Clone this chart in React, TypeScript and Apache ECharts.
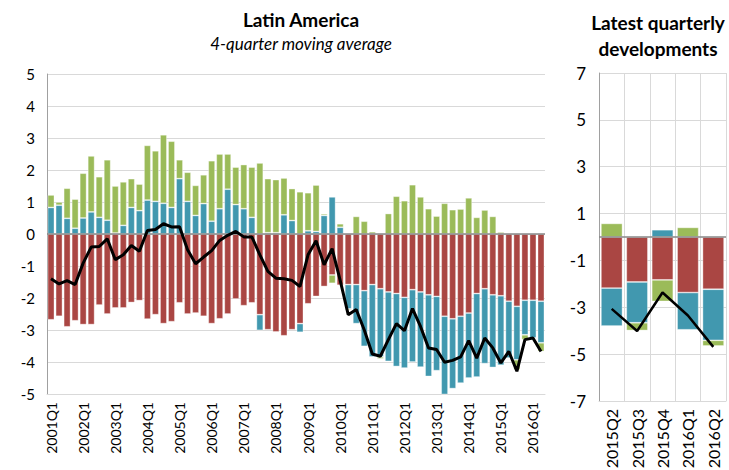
import React, { useEffect, useRef } from "react";
import * as echarts from "echarts";

const quarters = [
  "2001Q1","2001Q2","2001Q3","2001Q4","2002Q1","2002Q2","2002Q3","2002Q4",
  "2003Q1","2003Q2","2003Q3","2003Q4","2004Q1","2004Q2","2004Q3","2004Q4",
  "2005Q1","2005Q2","2005Q3","2005Q4","2006Q1","2006Q2","2006Q3","2006Q4",
  "2007Q1","2007Q2","2007Q3","2007Q4","2008Q1","2008Q2","2008Q3","2008Q4",
  "2009Q1","2009Q2","2009Q3","2009Q4","2010Q1","2010Q2","2010Q3","2010Q4",
  "2011Q1","2011Q2","2011Q3","2011Q4","2012Q1","2012Q2","2012Q3","2012Q4",
  "2013Q1","2013Q2","2013Q3","2013Q4","2014Q1","2014Q2","2014Q3","2014Q4",
  "2015Q1","2015Q2","2015Q3","2015Q4","2016Q1","2016Q2"
];

const redHist = [
  -2.68,-2.57,-2.90,-2.71,-2.83,-2.83,-2.22,-2.50,-2.31,-2.31,-2.14,-2.08,
  -2.66,-2.52,-2.80,-2.74,-2.15,-2.50,-2.47,-2.57,-2.80,-2.65,-2.50,-2.03,
  -2.24,-2.15,-2.52,-2.99,-3.06,-3.18,-2.99,-2.80,-2.18,-1.95,-1.64,-1.28,
  -1.60,-1.58,-1.58,-1.77,-1.58,-1.71,-1.81,-1.86,-1.98,-1.74,-1.81,-1.90,
  -1.95,-2.57,-2.65,-2.57,-2.47,-1.86,-1.71,-1.90,-1.93,-2.10,-2.26,-2.07,
  -2.07,-2.10
];
const blueHist = [
  0.83,0.90,0.49,0.18,0.50,0.69,0.52,0.43,0.03,0.27,0.83,0.73,
  1.06,1.02,0.96,0.83,1.73,1.02,0.58,0.95,0.40,0.79,1.40,0.92,
  0.79,0.52,-0.49,0.04,0.04,0.60,0.42,-0.27,0.10,0.08,0.58,1.16,
  0.21,-0.76,-1.22,-1.74,-2.26,-2.13,-2.17,-2.28,-2.21,-2.26,-2.35,-2.55,
  -2.32,-2.50,-2.18,-2.09,-2.03,-2.61,-2.34,-2.27,-2.17,-1.78,-1.67,-1.08,
  -1.18,-1.30
];
const greenHist = [
  0.39,0.10,0.94,0.91,1.40,1.75,1.27,1.89,1.47,1.36,0.90,0.83,
  1.71,1.58,2.14,2.07,0.59,0.91,0.94,0.90,1.89,1.71,1.10,1.17,
  1.38,1.57,2.22,1.69,1.66,1.15,1.00,1.32,1.19,1.45,0.05,-0.26,
  0.11,-0.04,0.55,0.40,0.07,-0.06,0.64,1.18,1.04,1.54,1.16,0.79,
  0.56,0.96,0.76,0.78,1.13,0.52,0.75,0.55,0.06,0,-0.31,-0.15,
  0,-0.27
];
const netHist = [
  -1.40,-1.56,-1.46,-1.58,-0.91,-0.41,-0.39,-0.15,-0.80,-0.65,-0.36,-0.54,
  0.11,0.14,0.32,0.22,0.23,-0.49,-0.93,-0.72,-0.52,-0.20,-0.04,0.08,
  -0.09,-0.09,-0.65,-1.17,-1.38,-1.40,-1.45,-1.64,-0.65,-0.21,-0.96,-0.46,
  -1.45,-2.52,-2.36,-3.00,-3.75,-3.82,-3.30,-2.80,-3.02,-2.33,-2.89,-3.56,
  -3.61,-4.01,-3.95,-3.84,-3.33,-3.88,-3.25,-3.56,-4.03,-3.67,-4.29,-3.30,
  -3.25,-3.67
];

const recentQuarters = ["2015Q2","2015Q3","2015Q4","2016Q1","2016Q2"];
const redRecent = [-2.18,-1.92,-1.83,-2.37,-2.23];
const blueRecent = [-1.62,-1.74,0.31,-1.59,-2.18];
const greenRecent = [0.58,-0.33,-0.92,0.41,-0.24];
const netRecent = [-3.07,-4.01,-2.37,-3.35,-4.69];

const RED = "#AA4643";
const BLUE = "#4198AF";
const GREEN = "#9BBB59";
const FONT = "Lato, 'Open Sans', sans-serif";

export default function App() {
  const ref = useRef<HTMLDivElement>(null);
  useEffect(() => {
    const chart = echarts.init(ref.current!, null, { renderer: "svg" });
    const barBase = (name: string, data: number[], color: string, idx: number, stack: string) => ({
      name,
      type: "bar",
      stack,
      xAxisIndex: idx,
      yAxisIndex: idx,
      data,
      barCategoryGap: "15%",
      itemStyle: { color, borderColor: "rgba(255,255,255,0.45)", borderWidth: 0.8 },
    });
    const zeroLine = {
      silent: true,
      symbol: "none",
      label: { show: false },
      lineStyle: { color: "#878787", width: 1.5, type: "solid" },
      data: [{ yAxis: 0 }],
    };
    chart.setOption({
      animation: false,
      textStyle: { fontFamily: FONT },
      title: [
        {
          text: "Latin America",
          subtext: "4-quarter moving average",
          left: 296,
          top: 5,
          textAlign: "center",
          itemGap: 6,
          textStyle: { fontSize: 19, fontWeight: "bold", color: "#000", fontFamily: FONT },
          subtextStyle: { fontSize: 17, fontStyle: "italic", color: "#000", fontFamily: FONT },
        },
        {
          text: "Latest quarterly\ndevelopments",
          left: 653,
          top: 4,
          textAlign: "center",
          textStyle: { fontSize: 19, fontWeight: "bold", color: "#000", lineHeight: 26, fontFamily: FONT },
        },
      ],
      grid: [
        { left: 47, top: 74, width: 498, height: 320, outerBoundsMode: "none", containLabel: false },
        { left: 599, top: 73, width: 127, height: 328, outerBoundsMode: "none", containLabel: false },
      ],
      xAxis: [
        {
          type: "category",
          gridIndex: 0,
          data: quarters,
          axisLine: { onZero: false, lineStyle: { color: "#D9D9D9" } },
          axisTick: { show: false },
          axisLabel: { rotate: 90, interval: 3, fontSize: 14, color: "#000", margin: 8, fontFamily: FONT },
          splitLine: { show: false },
        },
        {
          type: "category",
          gridIndex: 1,
          data: recentQuarters,
          axisLine: { onZero: false, lineStyle: { color: "#D9D9D9" } },
          axisTick: { show: false },
          axisLabel: { rotate: 90, interval: 0, fontSize: 16, color: "#000", margin: 8, fontFamily: FONT },
          splitLine: { show: true, lineStyle: { color: "#D9D9D9", width: 1 } },
        },
      ],
      yAxis: [
        {
          type: "value",
          gridIndex: 0,
          min: -5,
          max: 5,
          interval: 1,
          axisLine: { show: true, lineStyle: { color: "#A0A0A0" } },
          axisTick: { show: false },
          axisLabel: { fontSize: 15, color: "#000", margin: 12, fontFamily: FONT },
          splitLine: { lineStyle: { color: "#D9D9D9", width: 1 } },
        },
        {
          type: "value",
          gridIndex: 1,
          min: -7,
          max: 7,
          interval: 2,
          axisLine: { show: true, lineStyle: { color: "#A0A0A0" } },
          axisTick: { show: false },
          axisLabel: { fontSize: 17, color: "#000", margin: 13, fontFamily: FONT },
          splitLine: { lineStyle: { color: "#D9D9D9", width: 1 } },
        },
      ],
      series: [
        { ...barBase("Red", redHist, RED, 0, "hist"), markLine: zeroLine },
        barBase("Blue", blueHist, BLUE, 0, "hist"),
        barBase("Green", greenHist, GREEN, 0, "hist"),
        {
          name: "Net",
          type: "line",
          xAxisIndex: 0,
          yAxisIndex: 0,
          data: netHist,
          symbol: "none",
          z: 5,
          lineStyle: { color: "#000", width: 3 },
        },
        { ...barBase("Red recent", redRecent, RED, 1, "recent"), markLine: zeroLine },
        barBase("Blue recent", blueRecent, BLUE, 1, "recent"),
        barBase("Green recent", greenRecent, GREEN, 1, "recent"),
        {
          name: "Net recent",
          type: "line",
          xAxisIndex: 1,
          yAxisIndex: 1,
          data: netRecent,
          symbol: "none",
          z: 5,
          lineStyle: { color: "#000", width: 2.5 },
        },
      ],
    });
    return () => chart.dispose();
  }, []);
  return <div ref={ref} style={{ position: "absolute", left: 0, top: 0, width: 729, height: 470 }} />;
}
